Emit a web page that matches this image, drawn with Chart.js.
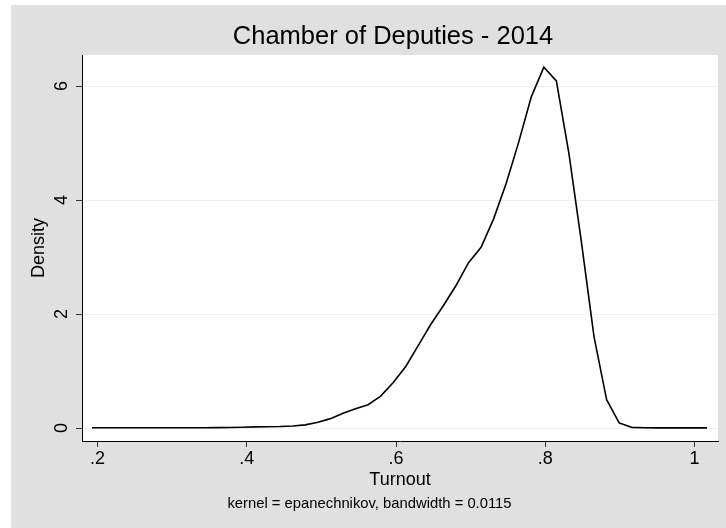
<!DOCTYPE html>
<html>
<head>
<meta charset="utf-8">
<title>Chamber of Deputies - 2014</title>
<script src="https://cdn.jsdelivr.net/npm/chart.js@4/dist/chart.umd.min.js"></script>
<style>
  html, body { margin: 0; padding: 0; background: #ffffff; }
  canvas { display: block; }
</style>
</head>
<body>
<canvas id="kd" width="726" height="528"></canvas>
<script>
// Kernel density estimate of turnout (Epanechnikov kernel, bw = 0.0115), 50 evaluation points
const turnoutGrid = [
  0.1926, 0.2094, 0.2263, 0.2431, 0.2599, 0.2767, 0.2935, 0.3104, 0.3272, 0.3440,
  0.3608, 0.3776, 0.3944, 0.4113, 0.4281, 0.4449, 0.4617, 0.4785, 0.4954, 0.5122,
  0.5290, 0.5458, 0.5626, 0.5795, 0.5963, 0.6131, 0.6299, 0.6467, 0.6636, 0.6804,
  0.6972, 0.7140, 0.7308, 0.7476, 0.7645, 0.7813, 0.7981, 0.8149, 0.8317, 0.8486,
  0.8654, 0.8822, 0.8990, 0.9158, 0.9327, 0.9495, 0.9663, 0.9831, 0.9999, 1.0167
];
const densityValues = [
  0.004, 0.004, 0.004, 0.004, 0.004, 0.004, 0.004, 0.005, 0.005, 0.006,
  0.007, 0.009, 0.015, 0.020, 0.022, 0.026, 0.035, 0.055, 0.100, 0.165,
  0.260, 0.340, 0.410, 0.560, 0.800, 1.080, 1.450, 1.820, 2.150, 2.500,
  2.900, 3.170, 3.670, 4.290, 5.020, 5.810, 6.330, 6.090, 4.820, 3.250,
  1.600, 0.500, 0.090, 0.012, 0.004, 0.003, 0.003, 0.003, 0.003, 0.003
];
const xTickValues = [0.2, 0.4, 0.6, 0.8, 1];
const xTickLabels = ['.2', '.4', '.6', '.8', '1'];
const yTickValues = [0, 2, 4, 6];
const yTickLabels = ['0', '2', '4', '6'];
const chartTitle = 'Chamber of Deputies - 2014';
const chartNote = 'kernel = epanechnikov, bandwidth = 0.0115';

const FONT = "'Liberation Sans', Arial, Helvetica, sans-serif";
const BG_GRAY = '#e0e0e0';

// Graph region (gray) and plot region (white)
const backgroundPlugin = {
  id: 'stataBackground',
  beforeDraw(chart) {
    const { ctx, width, height, chartArea } = chart;
    ctx.save();
    ctx.fillStyle = '#ffffff';
    ctx.fillRect(0, 0, width, height);
    ctx.fillStyle = BG_GRAY;
    ctx.fillRect(11, 5, width - 11, height - 5);
    ctx.fillStyle = '#ffffff';
    ctx.fillRect(chartArea.left, chartArea.top,
                 chartArea.right - chartArea.left, chartArea.bottom - chartArea.top);
    ctx.restore();
  }
};

// Title above the plot region, and vertical y tick labels placed through the y scale
const textPlugin = {
  id: 'stataText',
  afterDraw(chart) {
    const { ctx, chartArea } = chart;
    const scale = chart.scales.y;
    ctx.save();
    ctx.fillStyle = '#000000';

    ctx.font = `25.5px ${FONT}`;
    ctx.textAlign = 'center';
    ctx.textBaseline = 'middle';
    ctx.fillText(chartTitle, (chartArea.left + chartArea.right) / 2 - 7, chartArea.top - 18);

    ctx.font = `18px ${FONT}`;
    yTickValues.forEach((v, i) => {
      const py = scale.getPixelForValue(v);
      ctx.save();
      ctx.translate(scale.right - 20, py);
      ctx.rotate(-Math.PI / 2);
      ctx.fillText(yTickLabels[i], 0, 0);
      ctx.restore();
    });
    ctx.restore();
  }
};

const points = turnoutGrid.map((x, i) => ({ x: x, y: densityValues[i] }));

new Chart(document.getElementById('kd'), {
  type: 'line',
  data: {
    datasets: [{
      data: points,
      borderColor: '#000000',
      borderWidth: 1.6,
      pointRadius: 0,
      tension: 0,
      fill: false
    }]
  },
  options: {
    responsive: false,
    animation: false,
    devicePixelRatio: 1,
    layout: { padding: { top: 55, left: 21, right: 8, bottom: 0 } },
    plugins: {
      legend: { display: false },
      tooltip: { enabled: false },
      title: { display: false },
      subtitle: {
        display: true,
        position: 'bottom',
        text: chartNote,
        color: '#000000',
        font: { family: FONT, size: 14.8, weight: 'normal', lineHeight: 1.2 },
        padding: { top: 4, bottom: 15.2 }
      }
    },
    scales: {
      x: {
        type: 'linear',
        min: 0.1792,
        max: 1.0315,
        afterBuildTicks(scale) {
          scale.ticks = xTickValues.map(v => ({ value: v }));
        },
        afterFit(scale) { scale.height = 50; },
        ticks: {
          color: '#000000',
          font: { family: FONT, size: 18 },
          padding: 1,
          autoSkip: false,
          maxRotation: 0,
          minRotation: 0,
          callback(value) {
            const i = xTickValues.indexOf(value);
            return i >= 0 ? xTickLabels[i] : '';
          }
        },
        grid: {
          drawOnChartArea: false,
          drawTicks: true,
          tickLength: 6,
          tickColor: '#333333',
          tickWidth: 1
        },
        border: { display: true, color: '#000000', width: 1 },
        title: {
          display: true,
          text: 'Turnout',
          color: '#000000',
          font: { family: FONT, size: 18, lineHeight: 1.2 },
          padding: { top: 0, bottom: 0 }
        }
      },
      y: {
        type: 'linear',
        min: -0.228,
        max: 6.544,
        afterBuildTicks(scale) {
          scale.ticks = yTickValues.map(v => ({ value: v }));
        },
        afterFit(scale) { scale.width = 61; },
        ticks: { display: false },
        grid: {
          display: true,
          drawOnChartArea: true,
          color: '#eaf2f3',
          lineWidth: 1,
          drawTicks: true,
          tickLength: 6,
          tickColor: '#333333',
          tickWidth: 1
        },
        border: { display: true, color: '#000000', width: 1 },
        title: {
          display: true,
          text: 'Density',
          color: '#000000',
          font: { family: FONT, size: 18, lineHeight: 1.2 },
          padding: { top: 7.2, bottom: 0 }
        }
      }
    }
  },
  plugins: [backgroundPlugin, textPlugin]
});
</script>
</body>
</html>
